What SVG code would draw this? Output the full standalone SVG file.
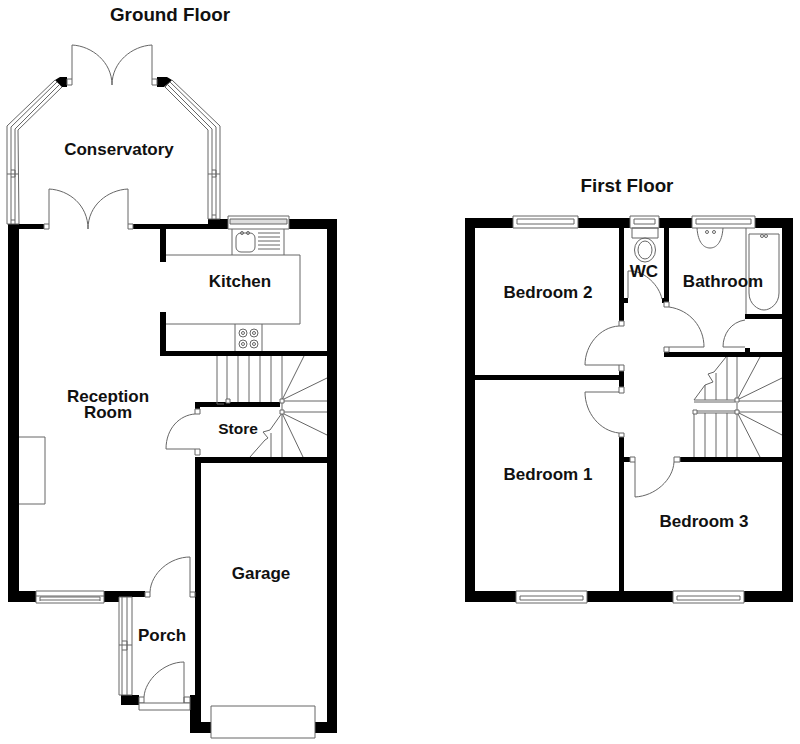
<svg xmlns="http://www.w3.org/2000/svg" width="800" height="744" viewBox="0 0 800 744">
<style>
.w{fill:#000}
.l{fill:none;stroke:#666;stroke-width:1}
.b{fill:#fff;stroke:#666;stroke-width:1}
.t{font-family:"Liberation Sans",Arial,sans-serif;font-weight:700;font-size:17px;fill:#111;text-anchor:middle}
.h{font-size:18.800px}
</style>
<rect width="800" height="744" fill="#fff"/>
<g id="ground-walls">
<path class="w" d="M8 224H44V229H19V591H36V602H8Z"/>
<path class="w" d="M133 224H208V219H228V229H133Z"/>
<path class="w" d="M289 219H337V733H315V722H327V229H289Z"/>
<path class="w" d="M160 229H166V262H160ZM160 312H166V351H327V356H160Z"/>
<path class="w" d="M195 457H327V463H201V722H211V733H190V695H195Z"/>
<path class="w" d="M104 591H145V597H119V602H104Z"/>
<rect class="w" x="121" y="695" width="18" height="10"/>
<path class="w" d="M195 402H280V407H200V409H195Z"/>
<path class="w" d="M55 80L60 77H67V87H62Z"/>
<path class="w" d="M157 77H167L172 80L164 87H157Z"/>
</g>
<g id="conservatory-glazing">
<path class="l" d="M7 126L55 80L62 87L18 130L19 224H7Z"/>
<path class="l" d="M11 127L57 82M15 129L60 84M11 127V224M15 129V224M7 174H19M11 170H15V177H11M11 220H15"/>
<path class="l" d="M220 126L172 80L165 87L208 130V219H220Z"/>
<path class="l" d="M216 127L170 82M212 129L167 84M216 127V219M212 129V219M208 174H220M212 170H216V177H212M212 215H216"/>
</g>
<g id="doors">
<path class="b" d="M67 79H72V85H67ZM152 79H157V85H152ZM44 224H49V229H44ZM128 224H133V229H128Z"/>
<path class="l" d="M72 79V45C92 46 112 62 112 85M152 79V45C132 46 112 62 112 85"/>
<path class="l" d="M49 224V189C69 190 88 205 88 229M128 224V189C108 190 88 205 88 229"/>
<path class="b" d="M195 409H200V414H195ZM195 449H200V455H195Z"/>
<path class="l" d="M195 414C180 415 166 428 166 449H195"/>
<path class="b" d="M145 592H150V597H145ZM190 592H195V597H190Z"/>
<path class="l" d="M150 592C151 573 170 557 190 557V592"/>
<path class="b" d="M139 697H144V703H139ZM184 697H190V703H184Z"/>
<path class="l" d="M144 697C145 680 164 662 184 662V703"/>
</g>
<g id="windows-ground">
<path class="b" d="M36 591H104V603H36Z"/>
<path class="l" d="M36 596H104M40 597H100M40 600H100M40 597V601M100 597V601"/>
<path class="b" d="M228 216H289V229H228Z"/>
<path class="b" d="M230 219H287V224H230Z" style="fill:#ddd"/>
<path class="b" d="M119 597H132V695H119Z"/>
<path class="l" d="M122 597V695M127 597V695M119 645H132M122 641H127V650H122"/>
<path class="b" d="M139 703H190V710H139Z"/>
<path class="b" d="M211 706H315V738H211Z"/>
</g>
<g id="kitchen-fittings">
<path class="l" d="M166 255H300V324H166M232 229V255M284 229V255M235 324V351M262 324V351"/>
<rect class="l" x="236" y="233" width="19" height="19" rx="5"/>
<circle class="l" cx="242" cy="233" r="1.500"/><circle class="l" cx="248" cy="233" r="1.500"/>
<path class="l" d="M258 233H280M258 237H280M258 241H280M258 245H280M258 249H280"/>
<circle class="l" cx="243" cy="333" r="4"/><circle class="l" cx="254" cy="333" r="4"/><circle class="l" cx="243" cy="344" r="4"/><circle class="l" cx="254" cy="344" r="4"/>
<circle class="l" cx="243" cy="333" r="1.500"/><circle class="l" cx="254" cy="333" r="1.500"/><circle class="l" cx="243" cy="344" r="1.500"/><circle class="l" cx="254" cy="344" r="1.500"/>
</g>
<g id="stairs-ground">
<path class="l" d="M217 356V404H224M227 356V400M238 356V402M249 356V402M260 356V402M271 356V402M282 356V400"/>
<path class="l" d="M282 400L304 356M282 400L327 378M282 401H327M282 412H327M282 413L327 435M282 413L303 457M282 413L270 430L263 432L268 438L265 440L250 457M271 433V457M282 413V457"/>
<path class="b" d="M226 399H230V403H226ZM280 399H284V403H280ZM280 410H284V414H280Z"/>
<path class="l" d="M282 403V410"/>
</g>
<g id="fireplace"><path class="l" d="M19 437H45V504H19"/></g>
<g id="first-walls">
<path class="w" d="M465 218H513V228H475V375H619V228H578V218H630V228H624V321H619V380H475V591H516V602H465Z"/>
<path class="w" d="M659 218H692V228H669V303H662V298H664V228H659Z"/>
<path class="w" d="M755 218H793V602H744V591H782V462H680V457H782V357H664V352H782V319H745V314H782V228H755Z"/>
<path class="w" d="M587 591H673V602H587Z"/>
<rect class="w" x="619" y="371" width="5" height="16"/>
<rect class="w" x="619" y="437" width="5" height="165"/>
<rect class="w" x="624" y="457" width="6" height="5"/>
<rect class="w" x="745" y="348" width="5" height="4"/>
<rect class="w" x="624" y="298" width="4" height="5"/>
</g>
<g id="doors-first">
<path class="b" d="M619 321H624V326H619ZM619 365H624V371H619ZM619 387H624V393H619ZM619 433H624V437H619ZM664 302H669V307H664ZM664 347H669V352H664ZM630 457H635V462H630ZM674 457H680V462H674Z"/>
<path class="l" d="M619 326C600 327 585 345 585 365H619"/>
<path class="l" d="M619 392H585C585 413 600 431 619 433"/>
<path class="l" d="M669 307C690 310 704 327 704 347H669"/>
<path class="l" d="M745 320C731 322 723 334 723 347H745"/>
<path class="l" d="M635 462V497C655 496 673 480 674 462"/>
<path class="l" d="M628 298V271H632C645 272 659 285 662 299"/>
</g>
<g id="windows-first">
<path class="b" d="M513 216H578V228H513Z"/><path class="l" d="M517 219H574V224H517Z"/>
<path class="b" d="M630 216H659V228H630Z"/><path class="l" d="M634 219H655V224H634Z"/>
<path class="b" d="M692 216H755V228H692Z"/><path class="l" d="M696 219H751V224H696Z"/>
<path class="b" d="M516 591H587V603H516Z"/><path class="l" d="M520 596H583V600H520Z"/>
<path class="b" d="M673 591H744V603H673Z"/><path class="l" d="M677 596H740V600H677Z"/>
</g>
<g id="bathroom-fittings">
<path class="l" d="M746 228V314M749 234H779V293C779 304 770 310 764 310C758 310 749 304 749 293Z"/>
<path class="l" d="M697 228C698 243 704 248 710 248C716 248 722 243 723 228"/>
<circle class="l" cx="707" cy="232" r="1.500"/><circle class="l" cx="714" cy="232" r="1.500"/>
<circle class="l" cx="762" cy="236" r="1.500"/><circle class="l" cx="766" cy="236" r="1.500"/>
<path class="l" d="M632 228H658V238H632Z"/><ellipse class="l" cx="645" cy="250" rx="10.500" ry="12"/><ellipse class="l" cx="645" cy="250" rx="7" ry="9"/>
</g>
<g id="stairs-first">
<path class="l" d="M694 400H735M694 402H735M695 411H735M695 413H735"/>
<path class="l" d="M694 413V457M705 413V457M716 413V457M727 413V457M737 413V457"/>
<path class="l" d="M694 400L705 385L713 382L708 374L714 372L726 357M705 385V400M716 373V400M727 357V400M737 357V398"/>
<path class="l" d="M737 400L760 357M737 400L782 378M737 401H782M737 412H782M737 412L782 435M737 412L760 457M737 403V410"/>
<path class="b" d="M735 398H739V402H735ZM735 410H739V414H735ZM693 410H697V414H693Z"/>
</g>
<g id="labels">
<text class="t h" x="170" y="21">Ground Floor</text>
<text class="t" x="119" y="155">Conservatory</text>
<text class="t" x="240" y="287">Kitchen</text>
<text class="t" x="108" y="402">Reception<tspan x="108" dy="16">Room</tspan></text>
<text class="t" x="238" y="434" style="font-size:15.500px">Store</text>
<text class="t" x="261" y="579">Garage</text>
<text class="t" x="162" y="641">Porch</text>
<text class="t h" x="627" y="192">First Floor</text>
<text class="t" x="548" y="298">Bedroom 2</text>
<text class="t" x="644" y="277">WC</text>
<text class="t" x="723" y="287">Bathroom</text>
<text class="t" x="548" y="480">Bedroom 1</text>
<text class="t" x="704" y="527">Bedroom 3</text>
</g>
</svg>
